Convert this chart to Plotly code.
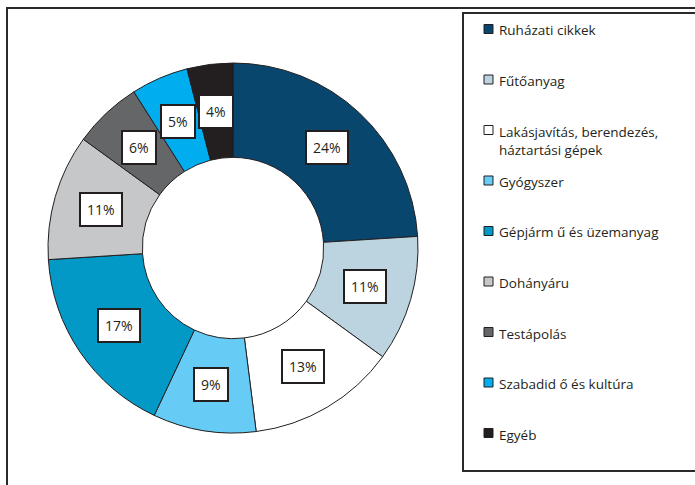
import math
import plotly.graph_objects as go

categories = [
    "Ruházati cikkek",
    "Fűtőanyag",
    "Lakásjavítás, berendezés,<br>háztartási gépek",
    "Gyógyszer",
    "Gépjárm ű és üzemanyag",
    "Dohányáru",
    "Testápolás",
    "Szabadid ő és kultúra",
    "Egyéb",
]
values = [24, 11, 13, 9, 17, 11, 6, 5, 4]
colors = ["#08466E", "#BCD3E0", "#FFFFFF", "#66CCF5", "#0399C6",
          "#C6C7C9", "#656668", "#00ADEF", "#231F20"]

W, H = 695, 485
CX, CY, R = 233, 248, 185      # pie centre / radius in pixels
HOLE = 0.49
FONT = "Open Sans"
TXT = "#231F20"

def px(x):
    return x / W

def py(y):
    return 1 - y / H

fig = go.Figure()
fig.add_trace(go.Pie(
    labels=categories, values=values, sort=False, direction="clockwise",
    rotation=0, hole=HOLE, textinfo="none", showlegend=False,
    marker=dict(colors=colors, line=dict(color="#231F20", width=1)),
    domain=dict(x=[px(CX - R), px(CX + R)], y=[py(CY + R), py(CY - R)]),
    hoverinfo="label+percent",
))

annotations = []
shapes = []

# percentage boxes at the middle of the ring
total = sum(values)
cum = 0
rmid = R * (1 + HOLE) / 2
for v in values:
    mid = (cum + v / 2) / total * 2 * math.pi
    cum += v
    x = CX + rmid * math.sin(mid)
    y = CY - rmid * math.cos(mid)
    annotations.append(dict(
        x=px(x), y=py(y), xref="paper", yref="paper", showarrow=False,
        text=f"{round(v / total * 100)}%", font=dict(family=FONT, size=14, color=TXT),
        bgcolor="white", bordercolor="#231F20", borderwidth=2, borderpad=6,
        xanchor="center", yanchor="middle",
    ))

# outer frame and legend box
shapes.append(dict(type="rect", xref="paper", yref="paper",
                   x0=px(7), x1=1.02, y0=-0.02, y1=py(8),
                   line=dict(color="#2a2a2a", width=2), fillcolor="rgba(0,0,0,0)"))
shapes.append(dict(type="rect", xref="paper", yref="paper",
                   x0=px(463), x1=1.02, y0=py(471), y1=py(13),
                   line=dict(color="#2a2a2a", width=2), fillcolor="rgba(0,0,0,0)"))

# manual legend
first_y, step = 29, 50.5
for i, (cat, col) in enumerate(zip(categories, colors)):
    yc = first_y + i * step
    shapes.append(dict(type="rect", xref="paper", yref="paper",
                       x0=px(484), x1=px(493), y0=py(yc + 4.5), y1=py(yc - 4.5),
                       line=dict(color="#231F20", width=1), fillcolor=col))
    annotations.append(dict(
        x=px(497), y=py(yc - 9.5), xref="paper", yref="paper", showarrow=False,
        text=cat, align="left", xanchor="left", yanchor="top",
        font=dict(family=FONT, size=13.5, color=TXT),
    ))

fig.update_layout(
    width=W, height=H, margin=dict(l=0, r=0, t=0, b=0),
    paper_bgcolor="white", plot_bgcolor="white",
    annotations=annotations, shapes=shapes, showlegend=False,
)
fig.write_html("out.html", config={"displayModeBar": False},
               post_script="document.body.style.margin='0px';")
